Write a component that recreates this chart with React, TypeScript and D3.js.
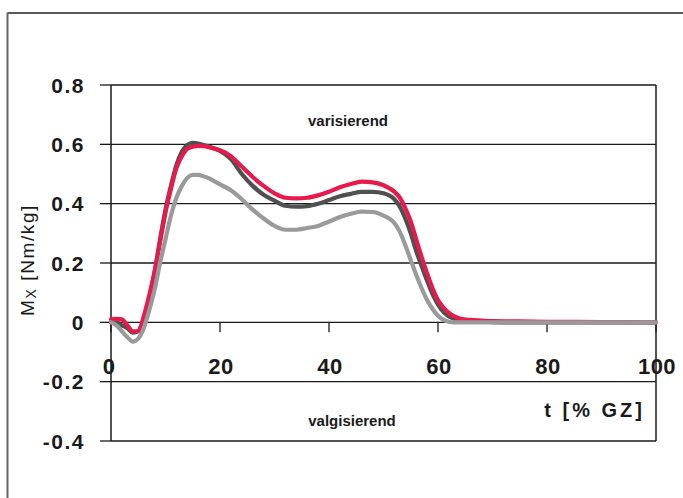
import React from "react";
import * as d3 from "d3";

const tValues = [0,1,2,3,4,5,6,7,8,9,10,11,12,13,14,15,16,17,18,19,20,22,24,26,28,30,32,34,36,38,40,42,44,46,48,50,52,53,54,55,56,57,58,59,60,61,62,63,64,66,68,70,75,80,90,100];

const redSeries = [0.01,0.012,0.01,-0.01,-0.03,-0.03,0.02,0.09,0.17,0.27,0.37,0.45,0.52,0.56,0.585,0.592,0.595,0.594,0.59,0.585,0.58,0.56,0.525,0.49,0.46,0.435,0.42,0.418,0.42,0.428,0.44,0.455,0.466,0.474,0.472,0.462,0.44,0.42,0.385,0.34,0.28,0.22,0.165,0.115,0.075,0.05,0.032,0.02,0.013,0.008,0.006,0.004,0.003,0.002,0.001,0];

const darkSeries = [0,0,-0.01,-0.02,-0.035,-0.03,0.01,0.08,0.17,0.28,0.38,0.46,0.53,0.575,0.598,0.605,0.603,0.598,0.592,0.586,0.578,0.55,0.5,0.46,0.43,0.41,0.393,0.39,0.392,0.4,0.412,0.425,0.433,0.44,0.44,0.435,0.415,0.39,0.35,0.3,0.24,0.19,0.14,0.095,0.06,0.035,0.02,0.012,0.008,0.004,0.002,0.001,0,0,0,0];

const lightSeries = [0,-0.01,-0.03,-0.05,-0.065,-0.055,-0.02,0.04,0.11,0.2,0.28,0.36,0.42,0.46,0.487,0.497,0.497,0.492,0.485,0.475,0.465,0.445,0.415,0.38,0.35,0.325,0.312,0.312,0.318,0.325,0.34,0.355,0.366,0.373,0.372,0.36,0.335,0.305,0.26,0.21,0.16,0.115,0.075,0.045,0.022,0.008,0.002,0,0,0,0,0,0,0,0,0];

const xTicks = [0, 20, 40, 60, 80, 100];
const yTicks = [-0.4, -0.2, 0, 0.2, 0.4, 0.6, 0.8];
const yTickLabels = ["-0.4", "-0.2", "0", "0.2", "0.4", "0.6", "0.8"];

const series = [
  { name: "dark", values: darkSeries, color: "#505050" },
  { name: "red", values: redSeries, color: "#e8194b" },
  { name: "light", values: lightSeries, color: "#9a9a9a" },
];

export default function App() {
  const left = 111, right = 656, top = 85, bottom = 441;
  const x = d3.scaleLinear().domain([0, 100]).range([left, right]);
  const y = d3.scaleLinear().domain([-0.4, 0.8]).range([bottom, top]);
  const line = d3
    .line<number>()
    .x((_, i) => x(tValues[i]))
    .y((d) => y(d))
    .curve(d3.curveMonotoneX);

  const font = "'Liberation Sans', Arial, sans-serif";

  return (
    <svg width={683} height={498} style={{ position: "absolute", left: 0, top: 0 }}>
      <rect x={0} y={0} width={683} height={498} fill="#fff" />
      {/* outer frame */}
      <line x1={7.5} y1={13} x2={690} y2={13} stroke="#222" strokeWidth={1.5} />
      <line x1={7.5} y1={12.5} x2={7.5} y2={510} stroke="#666" strokeWidth={2} />

      {/* grid lines */}
      {yTicks.map((v) => (
        <line key={"g" + v} x1={x(0)} x2={x(100)} y1={y(v)} y2={y(v)} stroke="#1a1a1a" strokeWidth={1.3} />
      ))}
      {/* y ticks */}
      {yTicks.map((v) => (
        <line key={"yt" + v} x1={x(0) - 11} x2={x(0)} y1={y(v)} y2={y(v)} stroke="#1a1a1a" strokeWidth={1.3} />
      ))}
      {/* x ticks */}
      {xTicks.map((v) => (
        <line key={"xt" + v} x1={x(v)} x2={x(v)} y1={y(0)} y2={y(0) + 10} stroke="#1a1a1a" strokeWidth={1.3} />
      ))}
      {/* plot frame */}
      <line x1={x(0)} x2={x(0)} y1={y(0.8)} y2={y(-0.4)} stroke="#1a1a1a" strokeWidth={1.5} />
      <line x1={x(100)} x2={x(100)} y1={y(0.8)} y2={y(-0.4)} stroke="#1a1a1a" strokeWidth={1.5} />

      {/* series */}
      {series.map((s) => (
        <path key={s.name} d={line(s.values) || ""} fill="none" stroke={s.color} strokeWidth={4.2} strokeLinejoin="round" strokeLinecap="round" />
      ))}

      {/* y tick labels */}
      {yTicks.map((v, i) => (
        <text key={"yl" + v} x={85} y={y(v) + 7.5} textAnchor="end" fontFamily={font} fontWeight="bold" fontSize={21} letterSpacing={1.5} fill="#1a1a1a">
          {yTickLabels[i]}
        </text>
      ))}
      {/* x tick labels */}
      {xTicks.map((v) => (
        <text key={"xl" + v} x={x(v) + (v === 0 ? -2 : 1)} y={374} textAnchor="middle" fontFamily={font} fontWeight="bold" fontSize={22} letterSpacing={0.5} fill="#1a1a1a">
          {String(v)}
        </text>
      ))}

      {/* axis titles */}
      <text x={645} y={417} textAnchor="end" fontFamily={font} fontWeight="bold" fontSize={20} letterSpacing={3} fill="#1a1a1a">
        t [% GZ]
      </text>
      <text transform="translate(34,260) rotate(-90)" textAnchor="middle" fontFamily={font} fontSize={19} letterSpacing={1.6} fill="#1a1a1a">
        M<tspan fontSize={14} dy={2}>X</tspan>
        <tspan dy={-2}> [Nm/kg]</tspan>
      </text>

      {/* annotations */}
      <text x={348} y={126} textAnchor="middle" fontFamily={font} fontWeight="bold" fontSize={15} fill="#1a1a1a">
        varisierend
      </text>
      <text x={352} y={426} textAnchor="middle" fontFamily={font} fontWeight="bold" fontSize={15} fill="#1a1a1a">
        valgisierend
      </text>
    </svg>
  );
}
